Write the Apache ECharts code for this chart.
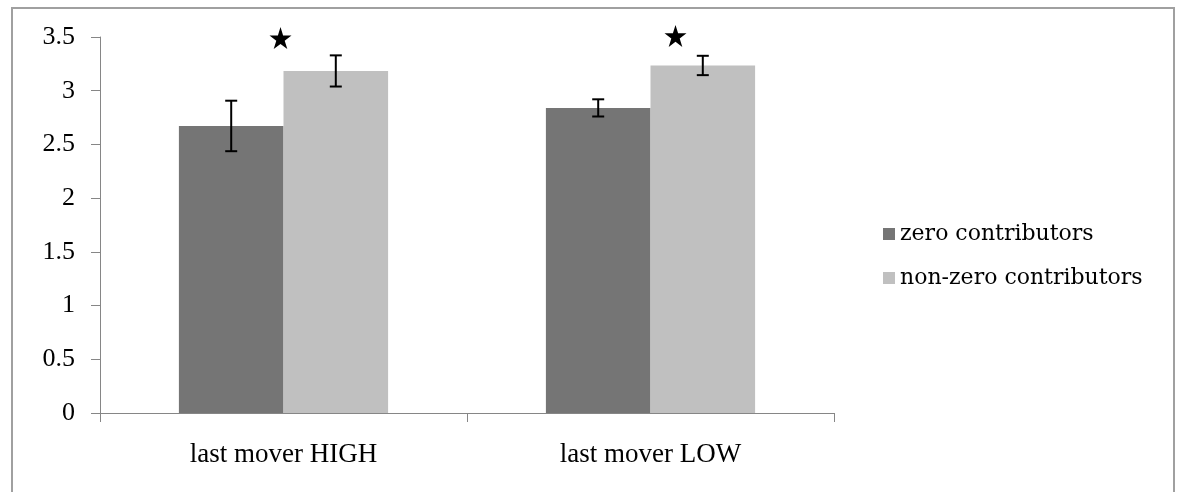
<!DOCTYPE html>
<html><head><meta charset="utf-8">
<script src="https://cdn.jsdelivr.net/npm/echarts@6/dist/echarts.min.js"></script>
<style>html,body{margin:0;padding:0;background:#fff}#c{width:1181px;height:492px}</style>
</head><body><div id="c"></div>
<script>
const categories = ['last mover HIGH', 'last mover LOW'];
const seriesNames = ['zero contributors', 'non-zero contributors'];
const zeroVals = [2.672, 2.84];
const zeroErr = [0.235, 0.08];
const nonZeroVals = [3.184, 3.235];
const nonZeroErr = [0.145, 0.09];
const starVals = [3.49, 3.51];
const yTicks = [0, 0.5, 1, 1.5, 2, 2.5, 3, 3.5];

const FONT = 'Liberation Serif';
const chart = echarts.init(document.getElementById('c'), null, {renderer: 'canvas'});
const GAP = 0.43;

function errSeries(vals, errs, side) {
  return {
    type: 'custom',
    z: 5,
    silent: true,
    clip: false,
    data: vals.map((v, i) => [i, v - errs[i], v + errs[i]]),
    renderItem: function (params, api) {
      const cw = api.size([1, 0])[0];
      const bw = cw * (1 - GAP) / 2;
      const c = api.coord([api.value(0), 0]);
      const x = c[0] + side * bw / 2;
      const lo = api.coord([api.value(0), api.value(1)])[1];
      const hi = api.coord([api.value(0), api.value(2)])[1];
      const hw = 6;
      const st = {stroke: '#000', lineWidth: 2};
      return {type: 'group', children: [
        {type: 'line', shape: {x1: x, y1: lo, x2: x, y2: hi}, style: st},
        {type: 'line', shape: {x1: x - hw, y1: lo, x2: x + hw, y2: lo}, style: st},
        {type: 'line', shape: {x1: x - hw, y1: hi, x2: x + hw, y2: hi}, style: st}
      ]};
    }
  };
}

const STAR = 'path://M50,0 L61.8,36.2 L100,36.2 L69.1,58.8 L80.9,95.1 L50,72.7 L19.1,95.1 L30.9,58.8 L0,36.2 L38.2,36.2 Z';

chart.setOption({
  animation: false,
  grid: {left: 100, right: 347, top: 37, bottom: 79},
  legend: {
    orient: 'vertical', left: 878, top: 218,
    itemWidth: 12, itemHeight: 12, itemGap: 22, icon: 'rect',
    data: seriesNames,
    textStyle: {fontFamily: 'DejaVu Serif', fontSize: 22, color: '#000', padding: [0, 0, 0, 0]}
  },
  xAxis: {
    type: 'category', data: categories,
    axisLine: {lineStyle: {color: '#868686', width: 1}},
    axisTick: {show: true, length: 9, lineStyle: {color: '#868686'}},
    axisLabel: {fontFamily: FONT, fontSize: 27, color: '#000', margin: 28}
  },
  yAxis: {
    type: 'value', min: 0, max: 3.5, interval: 0.5,
    axisLine: {show: true, lineStyle: {color: '#868686', width: 1}},
    axisTick: {show: true, length: 9, lineStyle: {color: '#868686'}},
    splitLine: {show: false},
    axisLabel: {fontFamily: FONT, fontSize: 26, color: '#000', margin: 25,
      formatter: v => yTicks.includes(v) ? String(v) : ''}
  },
  series: [
    {name: seriesNames[0], type: 'bar', data: zeroVals, barGap: '0%', barCategoryGap: '43%',
      itemStyle: {color: '#757575'}},
    {name: seriesNames[1], type: 'bar', data: nonZeroVals, barGap: '0%', barCategoryGap: '43%',
      itemStyle: {color: '#c0c0c0'}},
    errSeries(zeroVals, zeroErr, -1),
    errSeries(nonZeroVals, nonZeroErr, 1),
    {type: 'scatter', silent: true, z: 6, clip: false,
      data: [
        {value: [0, starVals[0]], symbolOffset: [-3, 0]},
        {value: [1, starVals[1]], symbolOffset: [25, 0]}
      ],
      symbol: STAR, symbolSize: 22,
      itemStyle: {color: '#000', opacity: 1}}
  ],
  graphic: [{type: 'rect', shape: {x: 12, y: 8, width: 1162, height: 500},
    style: {fill: 'none', stroke: '#a0a0a0', lineWidth: 2}, silent: true}]
});
</script></body></html>
